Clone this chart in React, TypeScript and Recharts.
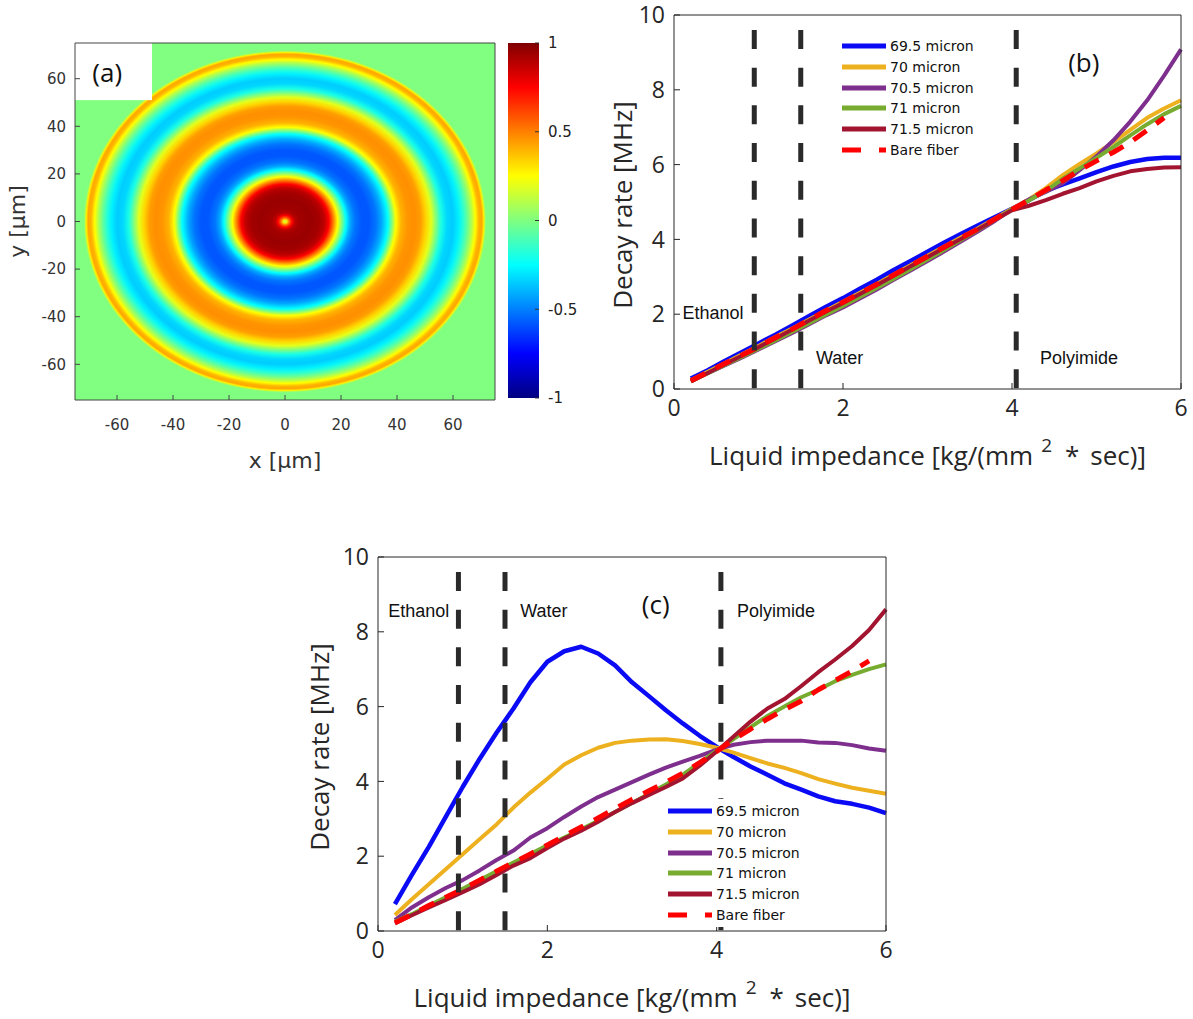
import React from "react";
import {
  ScatterChart, Scatter, LineChart, Line, BarChart, Bar, XAxis, YAxis,
  ReferenceLine, ReferenceDot, ReferenceArea, Legend
} from "recharts";

// (a) field profile read along the +x direction from the centre (radius in micron, normalised value)
const RING_R = [0, 0.7, 1.5, 2.5, 3.5, 5, 9, 12, 14, 15.7, 17.3, 18.8, 20.3, 21.8, 23.3, 25, 27.5, 30, 32.5, 34.5, 36.7, 38.2, 39.6, 41.5, 44, 46.5, 48.5, 50.4, 52.2, 53.7, 55.8, 58, 60, 62, 63.5, 65, 66.5, 68, 69.3, 70.3, 71, 71.6, 72];
const RING_V = [0.1, 0.3, 0.55, 0.75, 0.88, 0.93, 0.95, 0.93, 0.88, 0.75, 0.5, 0.25, 0, -0.25, -0.42, -0.52, -0.58, -0.58, -0.52, -0.42, -0.25, 0, 0.25, 0.4, 0.46, 0.47, 0.44, 0.33, 0.2, 0.03, -0.2, -0.33, -0.35, -0.28, -0.18, -0.06, 0.08, 0.25, 0.4, 0.42, 0.28, 0.05, 0];
const FIELD_TICKS = [-60, -40, -20, 0, 20, 40, 60];
const CBAR_TICKS = [-1, -0.5, 0, 0.5, 1];
const CBAR = [{ name: "field", span: [-1, 1] }];
const JET_BREAKS = [-1, -0.75, -0.25, 0.25, 0.75, 1];

// (b), (c) decay rate vs liquid impedance
const IMP = [0.2, 0.4, 0.6, 0.8, 1.0, 1.2, 1.4, 1.6, 1.8, 2.0, 2.2, 2.4, 2.6, 2.8, 3.0, 3.2, 3.4, 3.6, 3.8, 4.0, 4.2, 4.4, 4.6, 4.8, 5.0, 5.2, 5.4, 5.6, 5.8, 6.0];

const B_695 = [0.28, 0.5, 0.75, 0.98, 1.22, 1.45, 1.7, 1.95, 2.2, 2.43, 2.68, 2.92, 3.18, 3.42, 3.67, 3.92, 4.15, 4.38, 4.6, 4.82, 5.05, 5.3, 5.47, 5.63, 5.8, 5.95, 6.07, 6.15, 6.18, 6.18];
const B_70 = [0.23, 0.46, 0.69, 0.92, 1.15, 1.39, 1.62, 1.86, 2.1, 2.33, 2.57, 2.81, 3.06, 3.31, 3.56, 3.81, 4.06, 4.3, 4.56, 4.82, 5.07, 5.37, 5.72, 6.02, 6.3, 6.6, 6.93, 7.25, 7.5, 7.72];
const B_705 = [0.22, 0.42, 0.63, 0.84, 1.06, 1.28, 1.5, 1.73, 1.97, 2.18, 2.42, 2.66, 2.92, 3.17, 3.42, 3.68, 3.95, 4.22, 4.5, 4.8, 5.07, 5.27, 5.5, 5.85, 6.22, 6.65, 7.15, 7.72, 8.38, 9.08];
const B_71 = [0.2, 0.42, 0.64, 0.86, 1.08, 1.3, 1.53, 1.76, 1.99, 2.22, 2.46, 2.7, 2.95, 3.2, 3.46, 3.72, 3.99, 4.26, 4.53, 4.8, 5.04, 5.3, 5.62, 5.9, 6.18, 6.47, 6.78, 7.08, 7.35, 7.57];
const B_715 = [0.2, 0.43, 0.66, 0.89, 1.12, 1.35, 1.59, 1.83, 2.07, 2.3, 2.54, 2.78, 3.03, 3.28, 3.53, 3.78, 4.02, 4.27, 4.53, 4.78, 4.9, 5.05, 5.22, 5.37, 5.55, 5.7, 5.82, 5.88, 5.92, 5.93];
const B_BARE = [0.22, 0.45, 0.68, 0.9, 1.13, 1.38, 1.6, 1.85, 2.1, 2.32, 2.56, 2.8, 3.05, 3.3, 3.55, 3.8, 4.05, 4.28, 4.55, 4.8, 5.05, 5.32, 5.57, 5.85, 6.1, 6.33, 6.6, 6.92, 7.25, null];

const C_695 = [0.72, 1.5, 2.25, 3.05, 3.85, 4.6, 5.3, 5.95, 6.65, 7.2, 7.48, 7.6, 7.42, 7.1, 6.65, 6.28, 5.9, 5.55, 5.22, 4.92, 4.65, 4.4, 4.18, 3.95, 3.78, 3.6, 3.47, 3.4, 3.3, 3.15];
const C_70 = [0.43, 0.85, 1.25, 1.65, 2.05, 2.45, 2.85, 3.3, 3.7, 4.07, 4.45, 4.7, 4.9, 5.03, 5.09, 5.12, 5.13, 5.08, 5.0, 4.9, 4.77, 4.62, 4.48, 4.36, 4.22, 4.06, 3.94, 3.83, 3.75, 3.67];
const C_705 = [0.29, 0.63, 0.9, 1.15, 1.36, 1.62, 1.9, 2.15, 2.5, 2.75, 3.05, 3.33, 3.58, 3.78, 3.98, 4.18, 4.37, 4.53, 4.68, 4.85, 4.98, 5.05, 5.09, 5.09, 5.09, 5.04, 5.03, 4.97, 4.88, 4.82];
const C_71 = [0.25, 0.45, 0.68, 0.9, 1.13, 1.36, 1.6, 1.83, 2.06, 2.29, 2.5, 2.72, 2.95, 3.18, 3.42, 3.67, 3.92, 4.18, 4.5, 4.82, 5.13, 5.45, 5.75, 6.0, 6.25, 6.45, 6.68, 6.85, 7.0, 7.13];
const C_715 = [0.2, 0.42, 0.63, 0.83, 1.04, 1.25, 1.5, 1.75, 1.95, 2.22, 2.47, 2.68, 2.92, 3.18, 3.42, 3.64, 3.85, 4.08, 4.42, 4.8, 5.2, 5.6, 5.95, 6.2, 6.55, 6.92, 7.26, 7.62, 8.05, 8.6];
const C_BARE = [0.22, 0.44, 0.68, 0.9, 1.12, 1.36, 1.6, 1.83, 2.06, 2.3, 2.54, 2.78, 3.02, 3.27, 3.52, 3.75, 3.98, 4.22, 4.5, 4.8, 5.12, 5.4, 5.67, 5.92, 6.15, 6.45, 6.7, 6.95, 7.22, null];

const IMP_TICKS = [0, 2, 4, 6];
const RATE_TICKS = [0, 2, 4, 6, 8, 10];
const MEDIA_X = [0.95, 1.5, 4.05];

const SERIES = [
  { key: "s695", name: "69.5 micron", color: "#0a0af5", width: 4.5 },
  { key: "s70", name: "70 micron", color: "#edb120", width: 4 },
  { key: "s705", name: "70.5 micron", color: "#7e2f8e", width: 4 },
  { key: "s71", name: "71 micron", color: "#77ac30", width: 4 },
  { key: "s715", name: "71.5 micron", color: "#a2142f", width: 4 },
  { key: "bare", name: "Bare fiber", color: "#ff0000", width: 5, dash: "16 12" },
];

const toRows = (cols: (number | null)[][]) =>
  IMP.map((x, i) => {
    const row: any = { x };
    SERIES.forEach((s, j) => { row[s.key] = cols[j][i]; });
    return row;
  });

const dataB = toRows([B_695, B_70, B_705, B_71, B_715, B_BARE]);
const dataC = toRows([C_695, C_70, C_705, C_71, C_715, C_BARE]);

const jet = (v: number) => {
  const t = (v + 1) / 2;
  const c = (x: number) => Math.round(255 * Math.max(0, Math.min(1, x)));
  return `rgb(${c(1.5 - Math.abs(4 * t - 3))},${c(1.5 - Math.abs(4 * t - 2))},${c(1.5 - Math.abs(4 * t - 1))})`;
};

const INK = "#262626";
const SANS = "Open Sans";

// ---------- (a) ----------
const FIELD_W = 420;
const FIELD_H = 357;
const SPAN = 150;

const FieldImage = (p: any) => {
  const kx = FIELD_W / SPAN;
  const ky = FIELD_H / SPAN;
  const R = RING_R[RING_R.length - 1];
  return (
    <g>
      <defs>
        <radialGradient id="fieldGrad">
          {RING_R.map((r, i) => (
            <stop key={i} offset={r / R} stopColor={jet(RING_V[i])} />
          ))}
        </radialGradient>
      </defs>
      <rect x={p.cx - FIELD_W / 2} y={p.cy - FIELD_H / 2} width={FIELD_W} height={FIELD_H} fill={jet(0)} />
      <ellipse cx={p.cx} cy={p.cy} rx={R * kx} ry={R * ky} fill="url(#fieldGrad)" />
      <rect x={p.cx - FIELD_W / 2} y={p.cy - FIELD_H / 2} width={27.5 * kx} height={24 * ky} fill="#fff" />
      <text x={p.cx - 63.5 * kx} y={p.cy - 63 * ky} textAnchor="middle" dominantBaseline="central"
        fontFamily={SANS} fontSize={26} fill="#111">(a)</text>
    </g>
  );
};

const fieldTick = { fontSize: 15, fill: "#333", fontFamily: "DejaVu Sans" };

const PanelA = () => (
  <ScatterChart width={600} height={480} margin={{ top: 42, right: 104, bottom: 50, left: 25 }}>
    <Scatter data={[{ x: 0, y: 0 }]} dataKey="y" shape={FieldImage} isAnimationActive={false} zIndex={-10} />
    <XAxis type="number" dataKey="x" domain={[-75, 75]} ticks={FIELD_TICKS} height={30}
      tick={fieldTick} tickSize={-5} tickMargin={24} stroke="#444"
      label={(p: any) => (
        <text x={p.viewBox.x + p.viewBox.width / 2} y={p.viewBox.y + 68} textAnchor="middle"
          fontFamily="DejaVu Sans" fontSize={22} fill="#333">x [μm]</text>
      )} />
    <XAxis xAxisId="top" orientation="top" type="number" domain={[-75, 75]} ticks={FIELD_TICKS}
      height={1} tick={false} tickSize={-5} stroke="#444" />
    <YAxis type="number" dataKey="y" domain={[-75, 75]} ticks={FIELD_TICKS} width={50}
      tick={fieldTick} tickSize={-5} tickMargin={14} stroke="#444"
      label={(p: any) => {
        const cx = p.viewBox.x;
        const cy = p.viewBox.y + p.viewBox.height / 2;
        return (
          <text x={cx} y={cy} transform={`rotate(-90 ${cx} ${cy})`} textAnchor="middle"
            fontFamily="DejaVu Sans" fontSize={22} fill="#333">y [μm]</text>
        );
      }} />
    <YAxis yAxisId="right" orientation="right" type="number" domain={[-75, 75]} ticks={FIELD_TICKS}
      width={1} tick={false} tickSize={-5} stroke="#444" />
  </ScatterChart>
);

const ColorBar = () => (
  <BarChart width={90} height={480} data={CBAR} barCategoryGap={0}
    margin={{ top: 43, right: 1, bottom: 82, left: 18 }}>
    <defs>
      <linearGradient id="jetBar" x1="0" y1="1" x2="0" y2="0">
        {JET_BREAKS.map((v) => (
          <stop key={v} offset={(v + 1) / 2} stopColor={jet(v)} />
        ))}
      </linearGradient>
    </defs>
    <XAxis dataKey="name" hide />
    <YAxis orientation="right" type="number" domain={[-1, 1]} ticks={CBAR_TICKS} width={40}
      axisLine={false} tickSize={-4} tickMargin={13} stroke="#333"
      tick={{ fontSize: 15, fill: "#222", fontFamily: "DejaVu Sans", textAnchor: "start" }} />
    <Bar dataKey="span" fill="url(#jetBar)" isAnimationActive={false} />
  </BarChart>
);

// ---------- (b), (c) ----------
const rateTick = { fontSize: 23, fill: INK, fontFamily: SANS };

const xTitle = (p: any) => {
  const vb = p.viewBox;
  return (
    <text x={vb.x + vb.width / 2} y={vb.y + 76} textAnchor="middle" fontFamily={SANS} fontSize={26} fill={INK}>
      Liquid impedance [kg/(mm
      <tspan dx={8} dy={-13} fontSize={19}>2</tspan>
      <tspan dx={13} dy={13}>*</tspan>
      <tspan dx={11}>sec)]</tspan>
    </text>
  );
};

const yTitle = (shift: number) => (p: any) => {
  const vb = p.viewBox;
  const cx = vb.x + shift;
  const cy = vb.y + vb.height / 2 + 3;
  return (
    <text x={cx} y={cy} transform={`rotate(-90 ${cx} ${cy})`} textAnchor="middle"
      fontFamily={SANS} fontSize={26} fill={INK}>Decay rate [MHz]</text>
  );
};

const tag = (text: string, size: number, anchor: "start" | "middle", font: string) => (p: any) => (
  <text x={p.cx} y={p.cy} textAnchor={anchor} dominantBaseline="central" fontFamily={font}
    fontSize={size} fill="#111">{text}</text>
);

const legendContent = () => (
  <div style={{ background: "#fff", padding: "2px 4px", fontFamily: "DejaVu Sans", fontSize: 14, color: "#111" }}>
    {SERIES.map((s) => (
      <div key={s.key} style={{ display: "flex", alignItems: "center", height: 20.7 }}>
        <svg width={44} height={8} style={{ display: "block" }}>
          <line x1={0} x2={44} y1={4} y2={4} stroke={s.color} strokeWidth={5}
            strokeDasharray={s.dash ? "19 18" : undefined} />
        </svg>
        <span style={{ marginLeft: 4, whiteSpace: "nowrap" }}>{s.name}</span>
      </div>
    ))}
  </div>
);

type RateProps = {
  data: any[];
  width: number;
  height: number;
  margin: any;
  yShift: number;
  legendPos: { left: number; top: number };
  labels: { text: string; x: number; y: number; size: number; anchor: "start" | "middle"; font: string }[];
  ethanolBox?: boolean;
};

const RatePanel = ({ data, width, height, margin, yShift, legendPos, labels, ethanolBox }: RateProps) => (
  <LineChart width={width} height={height} data={data} margin={margin}>
    <XAxis type="number" dataKey="x" domain={[0, 6]} ticks={IMP_TICKS} height={40}
      tick={rateTick} tickSize={-6} tickMargin={17} stroke={INK} label={xTitle} />
    <XAxis xAxisId="top" orientation="top" type="number" domain={[0, 6]} ticks={IMP_TICKS}
      height={1} tick={false} tickSize={-6} stroke={INK} />
    <YAxis type="number" domain={[0, 10]} ticks={RATE_TICKS} width={40}
      tick={rateTick} tickSize={-6} tickMargin={15} stroke={INK} label={yTitle(yShift)} />
    <YAxis yAxisId="right" orientation="right" type="number" domain={[0, 10]} ticks={RATE_TICKS}
      width={1} tick={false} tickSize={-6} stroke={INK} />
    {ethanolBox && (
      <ReferenceArea x1={-0.02} x2={0.9} y1={1.52} y2={2.5} fill="#fff" fillOpacity={1} stroke="none" ifOverflow="visible" />
    )}
    {SERIES.map((s) => (
      <Line key={s.key} type="linear" dataKey={s.key} name={s.name} stroke={s.color} strokeWidth={s.width}
        strokeDasharray={s.dash} dot={false} activeDot={false} connectNulls={false}
        strokeLinejoin="round" isAnimationActive={false} />
    ))}
    {MEDIA_X.map((x) => (
      <ReferenceLine key={x} segment={[{ x, y: 9.6 }, { x, y: 0 }]} stroke="#2a2a2a"
        strokeWidth={5} strokeDasharray="19 18.7" />
    ))}
    {labels.map((l) => (
      <ReferenceDot key={l.text} x={l.x} y={l.y} r={0} shape={tag(l.text, l.size, l.anchor, l.font)} />
    ))}
    <Legend layout="vertical" align="center" verticalAlign="middle" content={legendContent}
      wrapperStyle={{ left: legendPos.left, top: legendPos.top, width: "auto", height: "auto" }} />
  </LineChart>
);

const LABELS_B = [
  { text: "Ethanol", x: 0.1, y: 2.03, size: 18, anchor: "start" as const, font: "Liberation Sans" },
  { text: "Water", x: 1.68, y: 0.83, size: 18, anchor: "start" as const, font: "Liberation Sans" },
  { text: "Polyimide", x: 4.33, y: 0.83, size: 18, anchor: "start" as const, font: "Liberation Sans" },
  { text: "(b)", x: 4.85, y: 8.74, size: 26, anchor: "middle" as const, font: SANS },
];

const LABELS_C = [
  { text: "Ethanol", x: 0.12, y: 8.56, size: 18, anchor: "start" as const, font: "Liberation Sans" },
  { text: "Water", x: 1.68, y: 8.56, size: 18, anchor: "start" as const, font: "Liberation Sans" },
  { text: "(c)", x: 3.28, y: 8.74, size: 26, anchor: "middle" as const, font: SANS },
  { text: "Polyimide", x: 4.24, y: 8.56, size: 18, anchor: "start" as const, font: "Liberation Sans" },
];

export default function App() {
  return (
    <div style={{ position: "absolute", left: 0, top: 0, width: 1193, height: 1019, background: "#fff", overflow: "hidden" }}>
      <div style={{ position: "absolute", left: 0, top: 0 }}>
        <PanelA />
      </div>
      <div style={{ position: "absolute", left: 490, top: 0 }}>
        <ColorBar />
      </div>
      <div style={{ position: "absolute", left: 600, top: -12 }}>
        <RatePanel data={dataB} width={593} height={492} margin={{ top: 26, right: 11, bottom: 51, left: 34 }}
          yShift={-2} legendPos={{ left: 238, top: 46 }} labels={LABELS_B} ethanolBox />
      </div>
      <div style={{ position: "absolute", left: 300, top: 540 }}>
        <RatePanel data={dataC} width={600} height={479} margin={{ top: 16, right: 13, bottom: 48, left: 38 }}
          yShift={-9} legendPos={{ left: 364, top: 259 }} labels={LABELS_C} />
      </div>
    </div>
  );
}
